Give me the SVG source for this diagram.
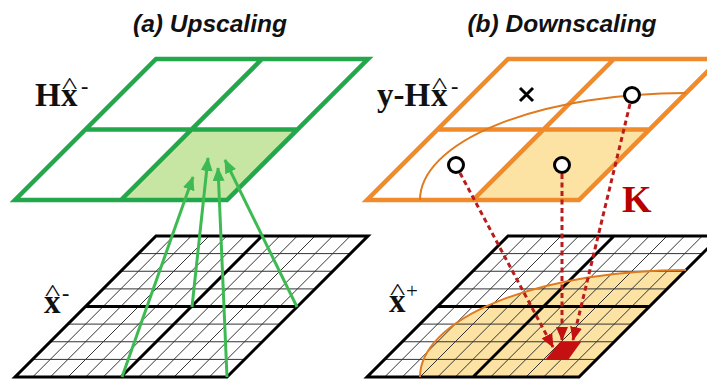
<svg xmlns="http://www.w3.org/2000/svg" width="707" height="379" viewBox="0 0 707 379">
<style>
.title{font-family:"Liberation Sans",Arial,sans-serif;font-weight:bold;font-style:italic;font-size:24.5px;fill:#111;text-anchor:middle}
.math{font-family:"Liberation Serif","Times New Roman",serif;font-weight:bold;font-size:33px;fill:#111}
.sup{font-family:"Liberation Serif","Times New Roman",serif;font-weight:bold;font-size:22px;fill:#111}
.hat{font-family:"Liberation Serif","Times New Roman",serif;font-size:24px;fill:#111;text-anchor:middle}
.thin{fill:none;stroke:#333;stroke-width:1}
.thick{fill:none;stroke:#000;stroke-width:3;stroke-linejoin:miter}
.green{fill:none;stroke:#22a84a;stroke-width:4.5;stroke-linejoin:miter}
.orange{fill:none;stroke:#f08a2a;stroke-width:4.5;stroke-linejoin:miter}
.garrow{stroke:#3dbb52;stroke-width:3;fill:none}
.rarrow{stroke:#b81c1c;stroke-width:3;fill:none;stroke-dasharray:5 3.5}
.dot{fill:#fff;stroke:#000;stroke-width:3}
</style>
<defs>
<marker id="gh" markerUnits="userSpaceOnUse" markerWidth="14" markerHeight="12" refX="13" refY="6" orient="auto">
<path d="M0,0L14,6L0,12Z" fill="#3dbb52"/>
</marker>
<marker id="rh" markerUnits="userSpaceOnUse" markerWidth="14" markerHeight="12" refX="13" refY="6" orient="auto">
<path d="M0,0L14,6L0,12Z" fill="#c41010"/>
</marker>
<g id="finegrid">
<path class="thin" d="M138.4,253.6H350.4M120.75,271.25H332.75M103.1,288.9H315.1M67.9,324.1H279.9M50.25,341.75H262.25M32.6,359.4H244.6M173.67,236l-141,141M191.33,236l-141,141M209,236l-141,141M226.67,236l-141,141M244.33,236l-141,141M279.67,236l-141,141M297.33,236l-141,141M315,236l-141,141M332.67,236l-141,141M350.33,236l-141,141"/>
<path class="thick" d="M156,236H368L227,377H15ZM85.5,306.5H297.5M262,236L121,377"/>
</g>
</defs>

<text class="title" x="210" y="32">(a) Upscaling</text>
<text class="title" x="562" y="32">(b) Downscaling</text>

<g id="hx-grid">
<path d="M191.5,129.5H297.5L227,200H121Z" fill="#c7e6a4"/>
<path class="green" d="M156,59H368L227,200H15ZM85.5,129.5H297.5M262,59L121,200"/>
</g>

<g id="xminus-grid">
<use href="#finegrid"/>
</g>

<g id="residual-grid">
<path d="M543.5,129.5H649.5L579,200H473Z" fill="#fde3a3"/>
<path class="orange" d="M508,59H720L579,200H367ZM437.5,129.5H649.5M614,59L473,200"/>
<path d="M420,200A266,107 0 0 1 686,93" fill="none" stroke="#e07a1e" stroke-width="2"/>
<path d="M520,88L533,101M533,88L520,101" stroke="#000" stroke-width="3"/>
<circle class="dot" cx="632" cy="95" r="7.5"/>
<circle class="dot" cx="456" cy="165" r="7.5"/>
<circle class="dot" cx="562" cy="165" r="7.5"/>
</g>

<g id="xplus-grid">
<path d="M420,377A266,107 0 0 1 686,270L579,377Z" fill="#fde3a3"/>
<use href="#finegrid" transform="translate(352,0)"/>
<path d="M420,377A266,107 0 0 1 686,270" fill="none" stroke="#e07a1e" stroke-width="2"/>
<path d="M545,360L560,342H581L568,360Z" fill="#c41010"/>
</g>

<g id="labels">
<text class="math" x="35" y="106">H</text>
<text class="math" x="61" y="106">x</text>
<text class="hat" transform="translate(69.5,93) scale(1.35,1)">^</text>
<text class="sup" x="81" y="93">-</text>
<text class="math" x="377" y="106">y-H</text>
<text class="math" x="431" y="106">x</text>
<text class="hat" transform="translate(439.5,93) scale(1.35,1)">^</text>
<text class="sup" x="451" y="93">-</text>
<text class="math" x="44" y="313">x</text>
<text class="hat" transform="translate(52.5,300) scale(1.35,1)">^</text>
<text class="sup" x="62" y="300">-</text>
<text class="math" x="389" y="312">x</text>
<text class="hat" transform="translate(397.5,299) scale(1.35,1)">^</text>
<text x="406" y="298" font-family="Liberation Serif,serif" font-size="21px" fill="#111">+</text>
<text class="math" x="622" y="212" style="font-size:38px;fill:#b80000">K</text>
</g>

<g id="connectors">
<path class="garrow" d="M122,377L193,177" marker-end="url(#gh)"/>
<path class="garrow" d="M192,307L208,158" marker-end="url(#gh)"/>
<path class="garrow" d="M227,377L218,168" marker-end="url(#gh)"/>
<path class="garrow" d="M297,307L225,160" marker-end="url(#gh)"/>
<path class="rarrow" d="M460,173L553,347" marker-end="url(#rh)"/>
<path class="rarrow" d="M562,174L562,340" marker-end="url(#rh)"/>
<path class="rarrow" d="M630,104L573,340" marker-end="url(#rh)"/>
</g>
</svg>
